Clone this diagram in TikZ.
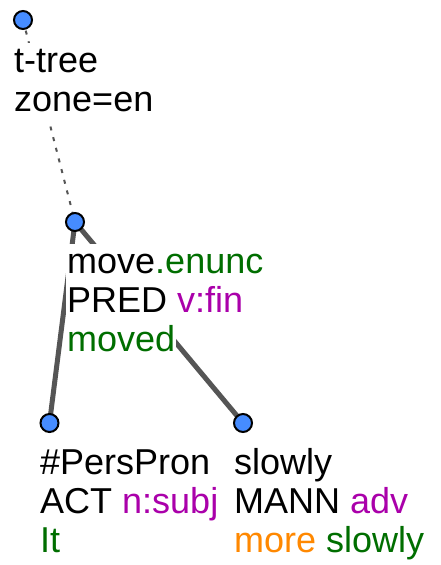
\documentclass[tikz,border=0pt]{standalone}
\usepackage{fontspec}
\setmainfont{Liberation Sans}
\definecolor{tgreen}{RGB}{0,110,0}
\definecolor{tmag}{RGB}{170,0,170}
\definecolor{torange}{RGB}{255,136,0}
\definecolor{tblue}{RGB}{70,140,255}
\definecolor{tedge}{RGB}{85,85,85}
\pgfdeclarelayer{bg}
\pgfsetlayers{bg,main}
\begin{document}
\begin{tikzpicture}[x=1pt,y=-1pt,
  tnode/.style={circle,draw=black,line width=2pt,fill=tblue,minimum size=18pt,inner sep=0pt},
  tline/.style={anchor=base west,fill=white,inner xsep=1pt,inner ysep=1pt,text height=28pt,text depth=10pt,font=\fontsize{36}{40}\selectfont},
  tedgeS/.style={draw=tedge,line width=5pt},
  tedgeD/.style={draw=tedge,line width=2pt,dash pattern=on 4pt off 7pt}]
\useasboundingbox (0,0) rectangle (440,565);
\node[tnode] (n0) at (23,20) {};
\node[tnode] (n1) at (75,222) {};
\node[tnode] (n2) at (49.5,423) {};
\node[tnode] (n3) at (243,423) {};
\node[tline] (r1) at (13,72) {t-tree};
\node[tline] (r2) at (13,111) {zone=en};
\node[tline] (m1) at (66,273) {move\textcolor{tgreen}{.enunc}};
\node[tline] (m2) at (66,312) {PRED \textcolor{tmag}{v:fin}};
\node[tline] (m3) at (66,351) {\textcolor{tgreen}{moved}};
\node[tline] (p1) at (39,474) {\#PersPron};
\node[tline] (p2) at (39,513) {ACT \textcolor{tmag}{n:subj}};
\node[tline] (p3) at (39,552) {\textcolor{tgreen}{It}};
\node[tline] (s1) at (233,474) {slowly};
\node[tline] (s2) at (233,513) {MANN \textcolor{tmag}{adv}};
\node[tline] (s3) at (233,552) {\textcolor{torange}{more} \textcolor{tgreen}{slowly}};
\begin{pgfonlayer}{bg}
\fill[white] (0,0) rectangle (440,565);
\draw[tedgeD] (n0.center) -- (n1.center);
\draw[tedgeS] (n1.center) -- (n2.center);
\draw[tedgeS] (n1.center) -- (n3.center);
\end{pgfonlayer}
\end{tikzpicture}
\end{document}
